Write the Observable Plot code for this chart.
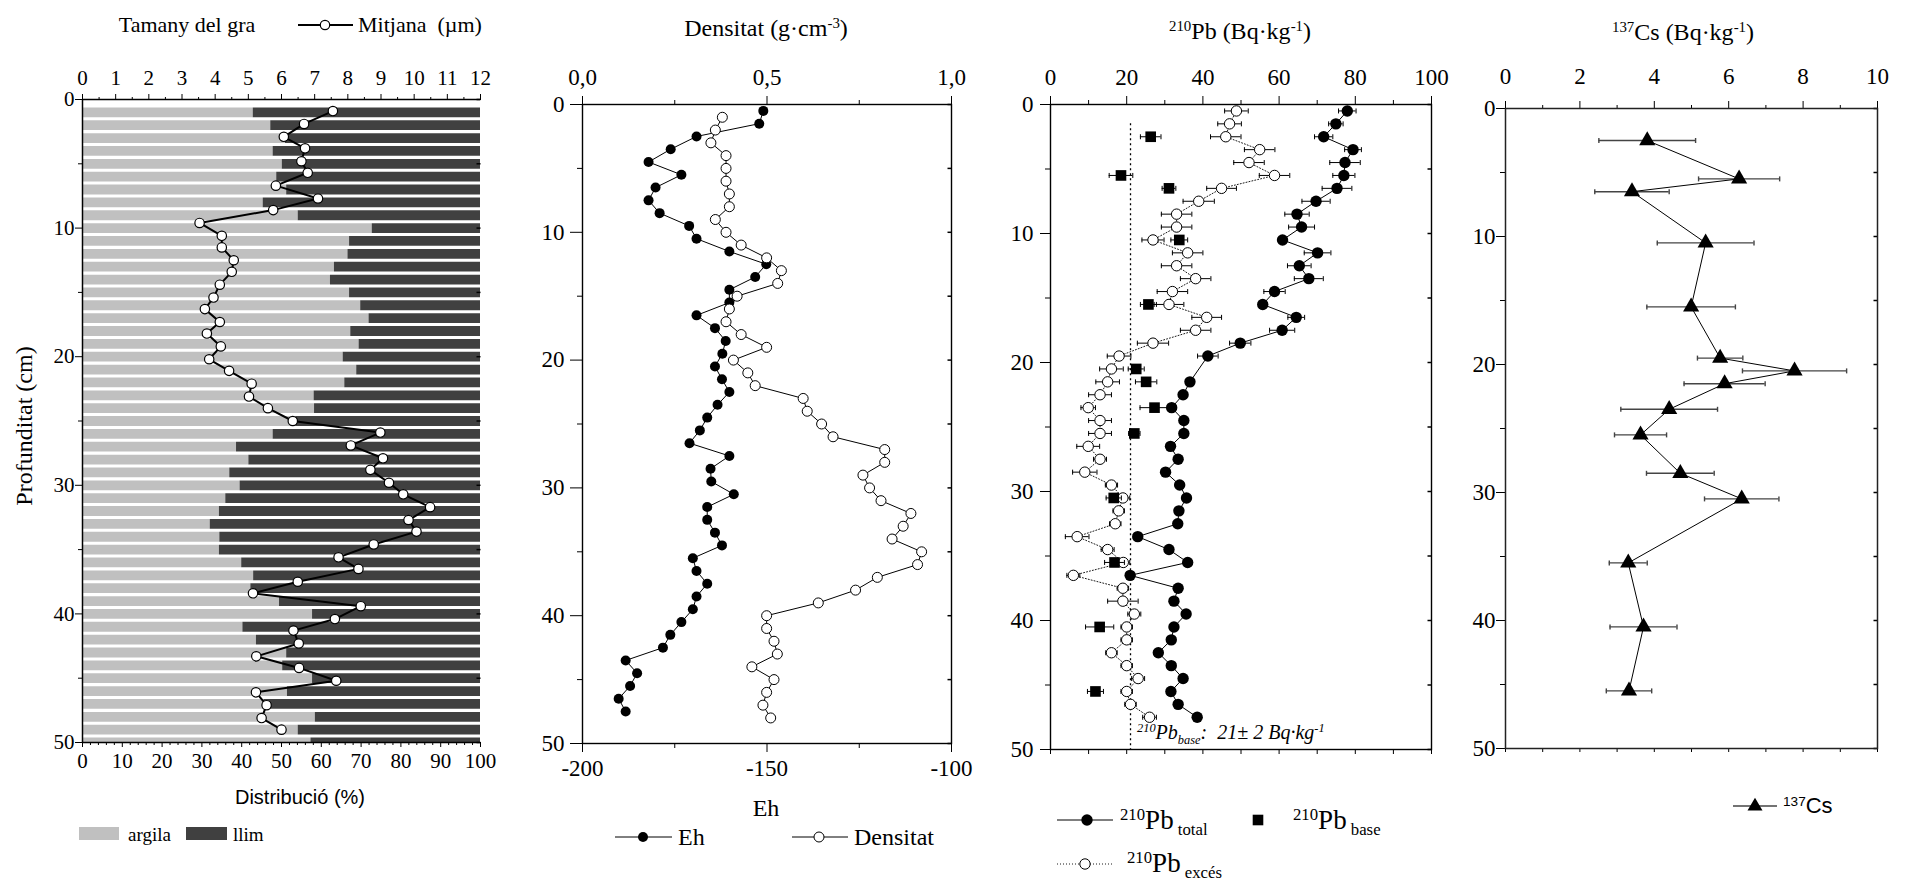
<!DOCTYPE html>
<html>
<head>
<meta charset="utf-8">
<script src="https://cdn.jsdelivr.net/npm/d3@7"></script>
<script src="https://cdn.jsdelivr.net/npm/@observablehq/plot@0.6"></script>
<style>
  body { margin: 0; background: #fff; }
  #fig { position: relative; width: 1908px; height: 885px; background: #fff; color: #000;
         font-family: "Liberation Serif", "Times New Roman", serif; overflow: hidden; }
  .lbl { position: absolute; white-space: nowrap; line-height: 1; }
  .sup { font-size: 0.62em; position: relative; top: -0.55em; }
  .sub { font-size: 0.62em; position: relative; top: 0.38em; }
</style>
</head>
<body>
<div id="fig"></div>
<script>
// ---------- Grain size (Tamany del gra) ----------
const grainDepth = [1,2,3,4,5,6,7,8,9,10,11,12,13,14,15,16,17,18,19,20,21,22,23,24,25,
                    26,27,28,29,30,31,32,33,34,35,36,37,38,39,40,41,42,43,44,45,46,47,48,49,50];
const argila = [42.9,47.3,51.0,47.9,50.2,48.8,51.3,45.4,54.2,72.8,
                67.1,66.7,63.3,62.3,67.1,69.9,72.0,67.4,69.5,65.5,
                68.9,65.9,58.2,58.3,53.6,47.9,38.7,41.8,37.0,39.6,
                36.0,34.4,32.1,34.5,34.4,40.0,43.0,42.3,49.5,57.8,
                40.3,43.7,51.3,50.3,57.8,51.5,45.6,58.5,54.2,57.4];
const llim = [57.1,52.7,49.0,52.1,49.8,51.2,48.7,54.6,45.8,27.2,
              32.9,33.3,36.7,37.7,32.9,30.1,28.0,32.6,30.5,34.5,
              31.1,34.1,41.8,41.7,46.4,52.1,61.3,58.2,63.0,60.4,
              64.0,65.6,67.9,65.5,65.6,60.0,57.0,57.7,50.5,42.2,
              59.7,56.3,48.7,49.7,42.2,48.5,54.4,41.5,45.8,42.6];
const meanDepth = [0.9,1.9,2.9,3.8,4.8,5.7,6.7,7.7,8.6,9.6,10.6,11.5,12.5,13.4,14.4,15.4,16.3,
                   17.3,18.2,19.2,20.2,21.1,22.1,23.1,24.0,25.0,25.9,26.9,27.9,28.8,29.8,30.7,
                   31.7,32.7,33.6,34.6,35.6,36.5,37.5,38.4,39.4,40.4,41.3,42.3,43.3,44.2,45.2,
                   46.1,47.1,48.1,49.0];
const mitjana = [7.55,6.68,6.07,6.71,6.60,6.79,5.83,7.10,5.75,3.53,
                 4.20,4.20,4.56,4.50,4.14,3.95,3.69,4.14,3.75,4.17,
                 3.82,4.42,5.10,5.02,5.59,6.34,8.98,8.09,9.06,8.68,
                 9.24,9.67,10.48,9.83,10.07,8.78,7.72,8.32,6.49,5.14,
                 8.39,7.61,6.36,6.52,5.24,6.53,7.65,5.23,5.55,5.40,6.00];

// ---------- Eh and density ----------
const ehDepth = [0.5,1.5,2.5,3.5,4.5,5.5,6.5,7.5,8.5,9.5,10.5,11.5,12.5,13.5,14.5,15.5,16.5,17.5,
                 18.5,19.5,20.5,21.5,22.5,23.5,24.5,25.5,26.5,27.5,28.5,29.5,30.5,31.5,32.5,33.5,
                 34.5,35.5,36.5,37.5,38.5,39.5,40.5,41.5,42.5,43.5,44.5,45.5,46.5,47.5];
const eh = [-151.0,-152.1,-169.1,-176.1,-182.1,-173.2,-180.2,-182.1,-179.1,-171.1,
            -169.1,-160.2,-150.2,-153.2,-160.2,-160.2,-169.1,-164.1,-161.2,-162.1,
            -164.1,-162.2,-160.2,-163.4,-166.2,-168.2,-171.0,-160.2,-165.3,-165.1,
            -159.0,-166.2,-166.2,-164.1,-162.2,-170.1,-169.1,-166.2,-169.1,-170.1,
            -173.2,-176.2,-178.2,-188.3,-185.2,-187.1,-190.2,-188.3];
const densDepth = [1,2,3,4,5,6,7,8,9,10,11,12,13,14,15,16,17,18,19,20,21,22,23,24,
                   25,26,27,28,29,30,31,32,33,34,35,36,37,38,39,40,41,42,43,44,45,46,47,48];
const densitat = [0.379,0.360,0.348,0.389,0.389,0.389,0.398,0.398,0.360,0.389,
                  0.430,0.499,0.539,0.529,0.419,0.398,0.389,0.430,0.499,0.409,
                  0.448,0.468,0.598,0.609,0.648,0.679,0.819,0.819,0.760,0.778,
                  0.809,0.890,0.869,0.839,0.919,0.908,0.799,0.740,0.639,0.499,
                  0.499,0.519,0.528,0.459,0.519,0.499,0.489,0.510];

// ---------- 210Pb ----------
const pbDepth = ehDepth;
const pbTotal = [77.9,74.9,71.7,79.4,77.3,77.0,75.2,69.7,64.7,65.9,
                 60.9,70.1,65.3,67.8,58.8,55.7,64.5,60.8,49.8,41.3,
                 null,36.6,34.8,31.8,35.0,35.0,31.5,33.5,30.2,33.9,
                 35.7,33.7,33.4,22.9,31.1,36.0,20.9,33.5,32.4,35.6,
                 32.4,31.7,28.3,31.7,34.8,31.6,33.5,38.5];
const pbTotalErr = [2.3,1.9,2.4,2.2,4.0,2.9,3.9,3.7,3.2,3.4,
                    1.0,3.5,3.1,3.8,2.8,1.0,2.2,3.3,2.8,2.7,
                    null,1.0,1.0,1.0,1.0,1.0,1.0,1.0,1.0,1.0,
                    1.0,1.0,1.0,1.0,1.0,1.0,1.0,1.0,1.0,1.0,
                    1.0,1.0,1.0,1.0,1.0,1.0,1.0,1.0];
const pbExces = [48.8,47.0,46.0,54.9,52.1,58.8,44.9,38.9,33.1,33.1,
                 26.9,36.0,33.1,38.1,32.0,31.1,41.0,38.1,26.9,18.0,
                 16.0,15.0,13.0,9.9,13.0,13.0,9.9,13.0,9.0,16.0,
                 19.0,17.9,17.0,7.0,15.0,19.1,6.0,19.0,19.0,22.0,
                 20.0,20.0,16.0,20.0,23.0,20.0,21.0,26.0];
const pbExcesErr = [3.1,3.1,4.0,4.0,4.0,4.0,3.9,4.1,4.0,4.0,
                    2.9,4.0,4.0,4.0,4.0,3.9,3.9,4.0,4.1,3.1,
                    3.1,3.1,3.0,1.9,3.0,3.0,3.0,1.7,3.2,1.6,
                    1.8,1.5,1.5,3.1,1.7,1.7,1.7,1.5,4.0,1.7,
                    1.5,1.5,1.5,1.5,1.7,1.5,1.5,1.8];
const baseDepth = [2.5,5.5,6.5,10.5,15.5,20.5,21.5,23.5,25.5,30.5,35.5,40.5,45.5];
const pbBaseVals = [26.3,18.5,31.1,33.8,25.7,22.5,25.1,27.3,22.0,16.6,16.8,12.9,11.8];
const pbBaseErr = [2.7,3.1,1.8,2.2,2.1,2.1,2.8,3.8,1.5,2.0,2.6,3.7,2.1];
const pbBaseMean = 21, pbBaseMeanErr = 2;

// ---------- 137Cs ----------
const csDepth = [2.5,5.5,6.5,10.5,15.5,19.5,20.5,21.5,23.5,25.5,28.5,30.5,35.5,40.5,45.5];
const cs = [3.81,6.28,3.40,5.38,4.99,5.77,7.77,5.89,4.40,3.63,4.70,6.35,3.30,3.71,3.32];
const csErr = [1.30,1.09,1.00,1.30,1.19,0.61,1.40,1.09,1.30,0.70,0.91,1.00,0.51,0.90,0.61];

// ---------- tick labels ----------
const depthTicks = [0,10,20,30,40,50];
const depthMinor = [5,15,25,35,45];
const umTicks = [0,1,2,3,4,5,6,7,8,9,10,11,12];
const pctTicks = [0,10,20,30,40,50,60,70,80,90,100];
const densTicks = [0,0.5,1];
const ehTicks = [-200,-150,-100];
const pbTicks = [0,20,40,60,80,100];
const csTicks = [0,2,4,6,8,10];

// ---------- helpers ----------
const SERIF = "'Liberation Serif','Times New Roman',serif";
const SANS = "'Liberation Sans',Arial,sans-serif";
const fig = document.getElementById("fig");
const zip = (ds, vs, es) => ds.map((d, i) => ({depth: d, v: vs[i], e: es ? es[i] : null}));
const seg = (x0, y0, x1, y1) => ({draw(c) { c.moveTo(x0, y0); c.lineTo(x1, y1); }});
const capSym = seg(0, -2.5, 0, 2.5);
const inTick = seg(-4, 0, 0, 0);
const comma = d => d.toFixed(1).replace(".", ",");
const blank = () => "";

function svgStyle(left, top) {
  return `position:absolute;left:${left}px;top:${top}px;background:none;overflow:visible;` +
         `font-family:${SERIF};font-size:21px;color:#000;max-width:none;`;
}
// One layer of a panel; every layer of a panel shares the same frame and depth scale.
function panel(left, top, width, height, m, x, marks) {
  const svg = Plot.plot({
    width, height,
    marginLeft: m[0], marginRight: m[1], marginTop: m[2], marginBottom: m[3],
    x: {...x, axis: null},
    y: {domain: [0, 50], reverse: true, axis: null},
    color: {domain: ["argila", "llim"], range: ["#c0c0c0", "#404040"]},
    style: svgStyle(left, top),
    marks
  });
  fig.appendChild(svg);
  return svg;
}
function errorMarks(rows, stroke, sw) {
  const ok = rows.filter(d => d.v != null && d.e != null);
  return [
    Plot.ruleY(ok, {y: "depth", x1: d => d.v - d.e, x2: d => d.v + d.e, stroke, strokeWidth: sw}),
    Plot.dot(ok, {x: d => d.v - d.e, y: "depth", symbol: capSym, fill: "none", stroke, strokeWidth: sw}),
    Plot.dot(ok, {x: d => d.v + d.e, y: "depth", symbol: capSym, fill: "none", stroke, strokeWidth: sw})
  ];
}
function leftAxes(size, major, pad, minor) {
  return [
    Plot.axisY({anchor: "left", ticks: depthTicks, tickSize: major, tickPadding: pad, fontSize: size, label: null}),
    Plot.axisY({anchor: "left", ticks: depthMinor, tickSize: minor, tickFormat: blank, label: null}),
    Plot.dot(depthTicks.concat(depthMinor), {y: d => d, frameAnchor: "right", symbol: inTick, fill: "none", stroke: "black"})
  ];
}
function text(html, x, y, size, opts = {}) {
  const el = document.createElement("div");
  el.className = "lbl";
  el.innerHTML = html;
  el.style.left = x + "px";
  el.style.top = y + "px";
  el.style.fontSize = size + "px";
  el.style.fontFamily = opts.family || SERIF;
  if (opts.italic) el.style.fontStyle = "italic";
  const tx = opts.anchor === "start" ? "0" : "-50%";
  el.style.transform = `translate(${tx},-50%)` + (opts.rotate ? ` rotate(${opts.rotate}deg)` : "");
  fig.appendChild(el);
}

// ---------- Panel 1: grain size ----------
const grainRows = grainDepth.flatMap((d, i) => [
  {depth: d, fraction: "argila", pct: argila[i]},
  {depth: d, fraction: "llim", pct: llim[i]}
]);
const meanRows = zip(meanDepth, mitjana);
const m1 = [82, 10, 99, 143];
panel(0, 0, 490, 885, m1, {domain: [0, 100]}, [
  Plot.ruleY(grainRows, Plot.stackX({y: "depth", x: "pct", stroke: "fraction", strokeWidth: 9.8, clip: true})),
  Plot.axisX({anchor: "bottom", ticks: pctTicks, tickSize: 5, tickPadding: 6, fontSize: 21, label: null}),
  Plot.axisX({anchor: "bottom", ticks: d3.range(2, 100, 2).filter(v => v % 10), tickSize: 3, tickFormat: blank, label: null})
]);
panel(0, 0, 490, 885, m1, {domain: [0, 12]}, [
  Plot.line(meanRows, {x: "v", y: "depth", stroke: "black", strokeWidth: 2}),
  Plot.dot(meanRows, {x: "v", y: "depth", r: 4.7, fill: "white", stroke: "black", strokeWidth: 1.2}),
  Plot.axisX({anchor: "top", ticks: umTicks, tickSize: 6, tickPadding: 9, fontSize: 21, label: null}),
  Plot.axisX({anchor: "top", ticks: d3.range(0.5, 12, 1), tickSize: 3, tickFormat: blank, label: null}),
  ...leftAxes(21, 7, 1, 4),
  Plot.ruleX([0], {stroke: "black", strokeWidth: 1.5}),
  Plot.ruleY([0, 50], {stroke: "black", strokeWidth: 1.5})
]);

// ---------- Panel 2: Eh and density ----------
const m2 = [92, 29, 104, 142];
panel(490, 0, 490, 885, m2, {domain: [-200, -100]}, [
  Plot.line(zip(ehDepth, eh), {x: "v", y: "depth", stroke: "black", strokeWidth: 1}),
  Plot.dot(zip(ehDepth, eh), {x: "v", y: "depth", r: 5, fill: "black"}),
  Plot.axisX({anchor: "bottom", ticks: ehTicks, tickSize: 9, tickPadding: 7, fontSize: 23, tickFormat: d => String(d), label: null}),
  Plot.axisX({anchor: "bottom", ticks: [-175, -125], tickSize: 5, tickFormat: blank, label: null})
]);
panel(490, 0, 490, 885, m2, {domain: [0, 1]}, [
  Plot.line(zip(densDepth, densitat), {x: "v", y: "depth", stroke: "black", strokeWidth: 1}),
  Plot.dot(zip(densDepth, densitat), {x: "v", y: "depth", r: 5, fill: "white", stroke: "black", strokeWidth: 1}),
  Plot.axisX({anchor: "top", ticks: densTicks, tickSize: 9, tickPadding: 11, fontSize: 23, tickFormat: comma, label: null}),
  Plot.axisX({anchor: "top", ticks: [0.25, 0.75], tickSize: 5, tickFormat: blank, label: null}),
  ...leftAxes(23, 12, 6, 5),
  Plot.frame({stroke: "black", strokeWidth: 1.4})
]);

// ---------- Panel 3: 210Pb ----------
const totalRows = zip(pbDepth, pbTotal, pbTotalErr);
const excesRows = zip(pbDepth, pbExces, pbExcesErr);
const baseRows = zip(baseDepth, pbBaseVals, pbBaseErr);
panel(980, 0, 470, 885, [70, 19, 104, 136], {domain: [0, 100]}, [
  Plot.ruleX([pbBaseMean], {y1: 1.5, y2: 50, stroke: "black", strokeWidth: 1.3, strokeDasharray: "2,3"}),
  ...errorMarks(excesRows, "black", 1),
  Plot.line(excesRows, {x: "v", y: "depth", stroke: "black", strokeWidth: 0.9, strokeDasharray: "1,2"}),
  Plot.dot(excesRows, {x: "v", y: "depth", r: 5.2, fill: "white", stroke: "black", strokeWidth: 1}),
  ...errorMarks(totalRows, "black", 1),
  Plot.line(totalRows.filter(d => d.v != null), {x: "v", y: "depth", stroke: "black", strokeWidth: 1}),
  Plot.dot(totalRows.filter(d => d.v != null), {x: "v", y: "depth", r: 5.7, fill: "black"}),
  ...errorMarks(baseRows, "black", 1),
  Plot.dot(baseRows, {x: "v", y: "depth", r: 6, symbol: "square", fill: "black"}),
  Plot.axisX({anchor: "top", ticks: pbTicks, tickSize: 9, tickPadding: 11, fontSize: 23, label: null}),
  Plot.axisX({anchor: "top", ticks: [10, 30, 50, 70, 90], tickSize: 5, tickFormat: blank, label: null}),
  Plot.axisX({anchor: "bottom", ticks: d3.range(0, 101, 10), tickSize: 5, tickFormat: blank, label: null}),
  ...leftAxes(23, 10, 7, 5),
  Plot.frame({stroke: "black", strokeWidth: 1.4})
]);

// ---------- Panel 4: 137Cs ----------
const csRows = zip(csDepth, cs, csErr);
panel(1450, 0, 458, 885, [55, 31, 108, 137], {domain: [0, 10]}, [
  ...errorMarks(csRows, "#444", 1.4),
  Plot.line(csRows, {x: "v", y: "depth", stroke: "black", strokeWidth: 1}),
  Plot.dot(csRows, {x: "v", y: "depth", r: 6, symbol: "triangle", fill: "black"}),
  Plot.axisX({anchor: "top", ticks: csTicks, tickSize: 8, tickPadding: 17, fontSize: 23, label: null}),
  Plot.axisX({anchor: "top", ticks: [1, 3, 5, 7, 9], tickSize: 4, tickFormat: blank, label: null}),
  Plot.axisX({anchor: "bottom", ticks: d3.range(0, 11, 1), tickSize: 4, tickFormat: blank, label: null}),
  ...leftAxes(23, 9, 1, 5),
  Plot.frame({stroke: "#222", strokeWidth: 1.5})
]);

// ---------- titles, axis names, annotation ----------
text("Tamany del gra", 187, 25, 22);
text("Mitjana&nbsp;&nbsp;(µm)", 358, 25, 22, {anchor: "start"});
text("Profunditat (cm)", 24, 426, 24, {rotate: -90});
text("Distribució (%)", 300, 797, 20, {family: SANS});
text("argila", 128, 834, 19, {anchor: "start"});
text("llim", 233, 834, 19, {anchor: "start"});

text("Densitat (g·cm<span class='sup'>-3</span>)", 766, 28, 24);
text("Eh", 766, 808, 24);
text("Eh", 678, 837, 24, {anchor: "start"});
text("Densitat", 854, 837, 24, {anchor: "start"});

text("<span class='sup'>210</span>Pb (Bq·kg<span class='sup'>-1</span>)", 1240, 31, 24);
text(`<span class='sup'>210</span>Pb<span class='sub'>base</span>:&nbsp; ${pbBaseMean}± ${pbBaseMeanErr} Bq·kg<span class='sup'>-1</span>`,
     1137, 732, 20, {anchor: "start", italic: true});
text("<span class='sup'>210</span>Pb<span class='sub'>&nbsp;total</span>", 1120, 820, 27, {anchor: "start"});
text("<span class='sup'>210</span>Pb<span class='sub'>&nbsp;base</span>", 1293, 820, 27, {anchor: "start"});
text("<span class='sup'>210</span>Pb<span class='sub'>&nbsp;excés</span>", 1127, 863, 27, {anchor: "start"});

text("<span class='sup'>137</span>Cs (Bq·kg<span class='sup'>-1</span>)", 1683, 32, 24);
text("<span class='sup'>137</span>Cs", 1783, 806, 22, {anchor: "start", family: SANS});

// ---------- legend glyphs ----------
const ns = "http://www.w3.org/2000/svg";
const lg = document.createElementNS(ns, "svg");
lg.setAttribute("width", 1908); lg.setAttribute("height", 885);
lg.style.cssText = "position:absolute;left:0;top:0;pointer-events:none;";
lg.innerHTML = `
  <line x1="298" x2="353" y1="25" y2="25" stroke="black" stroke-width="2"/>
  <circle cx="325" cy="25" r="4.7" fill="white" stroke="black" stroke-width="1.2"/>
  <rect x="79" y="827" width="40" height="13" fill="#c0c0c0"/>
  <rect x="186" y="827" width="41" height="13" fill="#404040"/>
  <line x1="615" x2="672" y1="837" y2="837" stroke="black"/>
  <circle cx="643" cy="837" r="5" fill="black"/>
  <line x1="792" x2="848" y1="837" y2="837" stroke="black"/>
  <circle cx="819" cy="837" r="5" fill="white" stroke="black"/>
  <line x1="1057" x2="1113" y1="820" y2="820" stroke="black"/>
  <circle cx="1087" cy="820" r="5.7" fill="black"/>
  <rect x="1252.7" y="814.7" width="10.6" height="10.6" fill="black"/>
  <line x1="1057" x2="1112" y1="864" y2="864" stroke="black" stroke-width="0.9" stroke-dasharray="1,2"/>
  <circle cx="1085" cy="864" r="5.2" fill="white" stroke="black"/>
  <line x1="1733" x2="1777" y1="806" y2="806" stroke="#444" stroke-width="1.3"/>
  <path d="M1755,797.8L1762.5,810.5L1747.5,810.5Z" fill="black"/>
`;
fig.appendChild(lg);
</script>
</body>
</html>
